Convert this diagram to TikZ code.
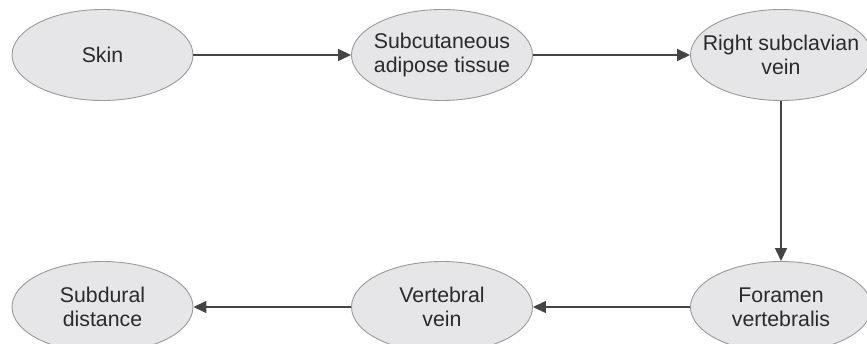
\documentclass[tikz,border=0pt]{standalone}
\usepackage{fontspec}
\setmainfont{Liberation Sans}
\usetikzlibrary{shapes.geometric,arrows.meta}
\definecolor{efill}{HTML}{E6E6E8}
\definecolor{edraw}{HTML}{9A9A9A}
\definecolor{lcol}{HTML}{444444}
\definecolor{tcol}{HTML}{2A2A2A}
\tikzset{
  bubble/.style={ellipse, draw=edraw, line width=0.9pt, fill=efill, minimum width=181pt, minimum height=91pt, inner sep=0pt},
  btext/.style={align=center, text=tcol, inner sep=0pt, font=\fontsize{21.3}{24}\selectfont},
  conn/.style={draw=lcol, line width=1.4pt, -{Triangle[length=13pt,width=12pt]}}
}
\begin{document}
\begin{tikzpicture}[x=1pt,y=1pt]
\clip (0,0) rectangle (867,343);
\useasboundingbox (0,0) rectangle (867,343);
\fill[white] (0,0) rectangle (867,343);
\node[bubble, label={[btext]center:Skin}] (skin) at (102.5,288) {};
\node[bubble, label={[btext]center:Subcutaneous\\adipose tissue}] (sub) at (442,288) {};
\node[bubble, label={[btext]center:Right subclavian\\vein}] (rsv) at (781,288) {};
\node[bubble, label={[btext]center:Foramen\\vertebralis}] (fv) at (781,36) {};
\node[bubble, label={[btext]center:Vertebral\\vein}] (vv) at (442,36) {};
\node[bubble, label={[btext]center:Subdural\\distance}] (sd) at (102.5,36) {};
\draw[conn] (skin.east) -- (sub.west);
\draw[conn] (sub.east) -- (rsv.west);
\draw[conn] (rsv.south) -- (fv.north);
\draw[conn] (fv.west) -- (vv.east);
\draw[conn] (vv.west) -- (sd.east);
\end{tikzpicture}
\end{document}
